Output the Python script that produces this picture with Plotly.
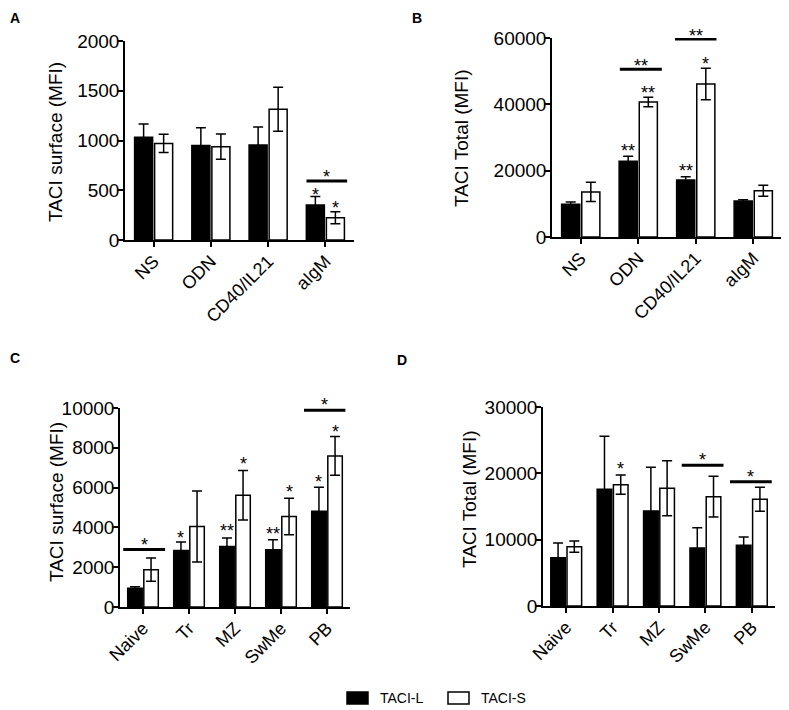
import plotly.graph_objects as go

W, H = 789, 710
PAGE_PAD = 8  # the browser's default body margin
FW, FH = W - PAGE_PAD, H - PAGE_PAD
FONT = "Liberation Sans, Arial, Helvetica, sans-serif"

series_names = ['TACI-L', 'TACI-S']
series_fill = ['black', 'white']

# Panel A - surface TACI after stimulation
stim_categories = ['NS', 'ODN', 'CD40/IL21', 'aIgM']
a_taci_l = [1032, 951, 955, 352]
a_taci_l_err = [134, 178, 181, 84]
a_taci_s = [971, 938, 1313, 224]
a_taci_s_err = [92, 127, 221, 60]
a_ticks = [0, 500, 1000, 1500, 2000]

# Panel B - total TACI after stimulation
b_taci_l = [9850, 22810, 17190, 10850]
b_taci_l_err = [700, 1500, 1000, 410]
b_taci_s = [13570, 40700, 46130, 13970]
b_taci_s_err = [2900, 1450, 4720, 1660]
b_ticks = [0, 20000, 40000, 60000]

# Panel C - surface TACI in B cell subsets
subset_categories = ['Naive', 'Tr', 'MZ', 'SwMe', 'PB']
c_taci_l = [940, 2843, 3043, 2876, 4816]
c_taci_l_err = [80, 418, 419, 502, 1204]
c_taci_s = [1873, 4047, 5619, 4548, 7592]
c_taci_s_err = [585, 1780, 1246, 912, 970]
c_ticks = [0, 2000, 4000, 6000, 8000, 10000]

# Panel D - total TACI in B cell subsets
d_taci_l = [7286, 17588, 14322, 8744, 9146]
d_taci_l_err = [2211, 7990, 6583, 3065, 1256]
d_taci_s = [8945, 18291, 17739, 16482, 16080]
d_taci_s_err = [855, 1458, 4146, 3066, 1809]
d_ticks = [0, 10000, 20000, 30000]

# significance marks over single bars: (category index, series index, y, label)
a_stars = [(3, 0, 502, '*'), (3, 1, 368, '*')]
b_stars = [(1, 0, 27340, '**'), (1, 1, 44920, '**'), (2, 0, 21300, '**'), (2, 1, 53670, '*')]
c_stars = [(1, 0, 3712, '*'), (2, 0, 4047, '**'), (2, 1, 7425, '*'), (3, 0, 3913, '**'),
           (3, 1, 6054, '*'), (4, 0, 6522, '*'), (4, 1, 9064, '*')]
d_stars = [(1, 1, 21457, '*')]

# comparison bars: (from, to, y, label, label y)
a_brackets = [(2.67, 3.38, 593, '*', 680)]
b_brackets = [(0.68, 1.41, 50550, '**', 53170), (1.64, 2.36, 59700, '**', 62010)]
c_brackets = [(-0.43, 0.48, 2893, '*', 3380), (3.5, 4.4, 9883, '*', 10400)]
d_brackets = [(2.49, 3.39, 21206, '*', 22713), (3.53, 4.43, 18744, '*', 20201)]

panels = [
    dict(letter='A', cats=stim_categories, l=a_taci_l, le=a_taci_l_err, s=a_taci_s, se=a_taci_s_err,
         ticks=a_ticks, title='TACI surface (MFI)', stars=a_stars, brackets=a_brackets,
         px=(125, 354), py=(41, 240), title_pos=(55, 142), letter_pos=(8, 12)),
    dict(letter='B', cats=stim_categories, l=b_taci_l, le=b_taci_l_err, s=b_taci_s, se=b_taci_s_err,
         ticks=b_ticks, title='TACI Total (MFI)', stars=b_stars, brackets=b_brackets,
         px=(552, 782), py=(38, 237), title_pos=(462, 138), letter_pos=(417, 12)),
    dict(letter='C', cats=subset_categories, l=c_taci_l, le=c_taci_l_err, s=c_taci_s, se=c_taci_s_err,
         ticks=c_ticks, title='TACI surface (MFI)', stars=c_stars, brackets=c_brackets,
         px=(120, 350), py=(408, 607), title_pos=(56, 502), letter_pos=(8, 357)),
    dict(letter='D', cats=subset_categories, l=d_taci_l, le=d_taci_l_err, s=d_taci_s, se=d_taci_s_err,
         ticks=d_ticks, title='TACI Total (MFI)', stars=d_stars, brackets=d_brackets,
         px=(543, 775), py=(407, 606), title_pos=(469, 499), letter_pos=(402, 359)),
]


def fx(x):
    # page pixel -> paper x (kept inside the paper)
    return max(0.0, (x - PAGE_PAD) / FW)


def fy(y):
    # page pixel -> paper y
    return 1 - (y - PAGE_PAD) / FH


BARGAP = 0.3
OFFSET = (1 - BARGAP) / 4  # centre of each bar relative to category centre
star_font = dict(size=18, color='black', family=FONT)

fig = go.Figure()
annotations = []
shapes = []

for i, p in enumerate(panels):
    n = str(i + 1) if i else ''
    xa, ya = 'x' + n, 'y' + n
    ymax = p['ticks'][-1]
    for k, (vals, errs) in enumerate([(p['l'], p['le']), (p['s'], p['se'])]):
        fig.add_trace(go.Bar(
            x=p['cats'], y=vals, name=series_names[k], xaxis=xa, yaxis=ya,
            marker=dict(color=series_fill[k], line=dict(color='black', width=1.5)),
            error_y=dict(type='data', array=errs, color='black', thickness=1.5, width=5),
            showlegend=False))

    fig.layout['xaxis' + n] = dict(
        domain=[fx(p['px'][0]), fx(p['px'][1])], anchor=ya, type='category', automargin=False,
        range=[-0.5, len(p['cats']) - 0.5], showline=True, linecolor='black', linewidth=1.5,
        ticks='outside', ticklen=5, tickwidth=1.5, tickcolor='black', tickangle=-45,
        tickfont=dict(size=18, color='black', family=FONT), ticklabelstandoff=-3,
        showgrid=False, zeroline=False)
    fig.layout['yaxis' + n] = dict(
        domain=[fy(p['py'][1]), fy(p['py'][0])], anchor=xa, automargin=False,
        range=[0, ymax], tickvals=p['ticks'], tickformat='d', showline=True,
        linecolor='black', linewidth=1.5, ticks='outside', ticklen=5, tickwidth=1.5,
        tickcolor='black', tickfont=dict(size=19, color='black', family=FONT),
        ticklabelstandoff=-5, showgrid=False, zeroline=False)

    annotations.append(dict(text=p['title'], x=fx(p['title_pos'][0]), y=fy(p['title_pos'][1]),
                            xref='paper', yref='paper', xanchor='center', yanchor='middle',
                            textangle=-90, showarrow=False,
                            font=dict(size=19, color='black', family=FONT)))
    lx = fx(p['letter_pos'][0])
    annotations.append(dict(text='<b>%s</b>' % p['letter'], x=lx,
                            y=min(1.0, fy(p['letter_pos'][1] - 9)), xref='paper', yref='paper',
                            xanchor='left' if lx == 0 else 'center', yanchor='top',
                            showarrow=False, font=dict(size=14, color='black', family=FONT)))

    # star positions go through the domain reference so marks above the range stay visible
    for cat, ser, yv, lab in p['stars']:
        annotations.append(dict(text=lab, x=cat + (OFFSET if ser else -OFFSET), y=yv / ymax,
                                xref=xa, yref=ya + ' domain', showarrow=False, xanchor='center',
                                yanchor='middle', yshift=-5, font=star_font))
    for x0, x1, yv, lab, ly in p['brackets']:
        shapes.append(dict(type='line', xref=xa, yref=ya, x0=x0, x1=x1, y0=yv, y1=yv,
                           line=dict(color='black', width=3)))
        annotations.append(dict(text=lab, x=(x0 + x1) / 2, y=ly / ymax, xref=xa,
                                yref=ya + ' domain', showarrow=False, xanchor='center',
                                yanchor='middle', yshift=-5, font=star_font))

# legend drawn by hand so the swatches keep their wide shape
legend_x = [347, 448]
for k, name in enumerate(series_names):
    x0 = legend_x[k]
    shapes.append(dict(type='rect', xref='paper', yref='paper',
                       x0=fx(x0), x1=fx(x0 + 21), y0=fy(704), y1=fy(692),
                       fillcolor=series_fill[k], line=dict(color='black', width=1.5)))
    annotations.append(dict(text=name, x=fx(x0 + 31), y=fy(698), xref='paper', yref='paper',
                            xanchor='left', yanchor='middle', showarrow=False,
                            font=dict(size=14, color='black', family=FONT)))

fig.update_layout(
    template='none', width=FW, height=FH, autosize=False, margin=dict(l=0, r=0, t=0, b=0),
    paper_bgcolor='white', plot_bgcolor='white', barmode='group',
    bargap=BARGAP, bargroupgap=0.1, showlegend=False,
    font=dict(family=FONT, color='black'),
    annotations=annotations, shapes=shapes)

fig.write_html("out.html")
